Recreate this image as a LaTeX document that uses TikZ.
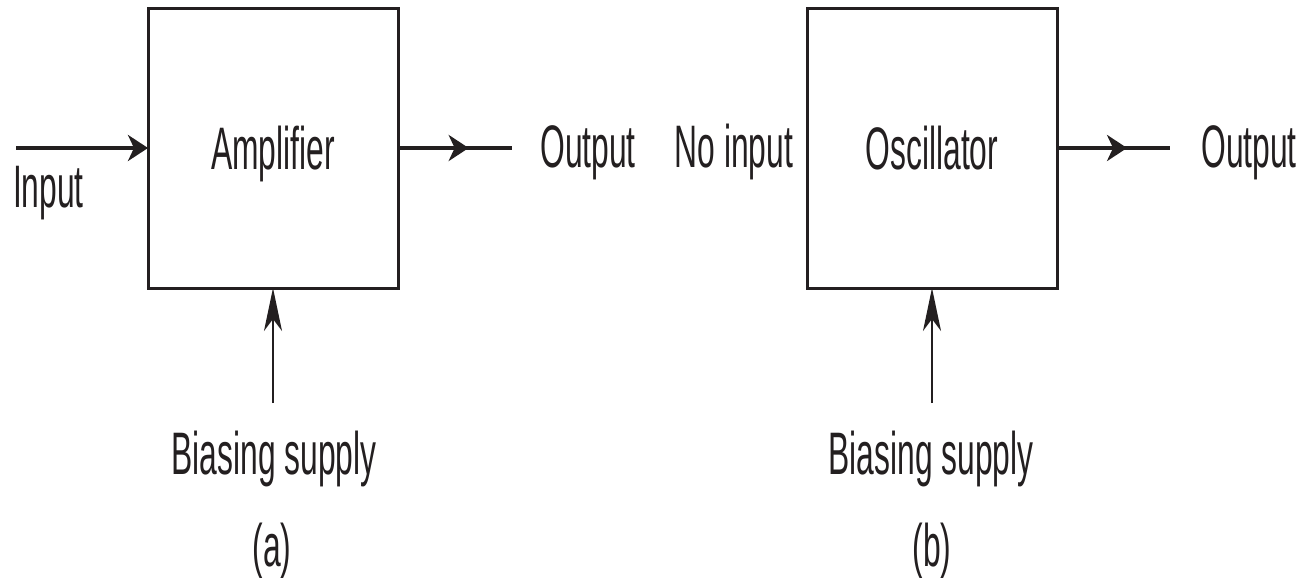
\documentclass[tikz,border=0pt]{standalone}
\usepackage{fontspec}
\setmainfont[FakeStretch=0.53]{Liberation Sans}
\usetikzlibrary{arrows.meta,decorations.markings}
\definecolor{ink}{RGB}{35,31,32}
\begin{document}
\begin{tikzpicture}[x=0.5pt,y=-0.5pt,
  every node/.style={inner sep=0pt, outer sep=0pt, text=ink, font=\fontsize{30}{36}\selectfont},
  block/.style={draw=ink, line width=1.5pt, minimum width=125pt, minimum height=140pt,
                text height=21.5pt, text depth=0pt},
  sig/.style={draw=ink, line width=2pt},
  bias/.style={draw=ink, line width=1pt, -{Stealth[length=21.5pt,width=9pt,inset=6pt]}},
  hhead/.style={-{Stealth[length=10pt,width=13pt,inset=3pt]}},
  midhead/.style={postaction={decorate}, decoration={markings,
      mark=at position #1 with {\arrow{Stealth[length=10pt,width=13pt,inset=3pt]}}}}
]
\useasboundingbox (0,0) rectangle (1301,578);

% (a) amplifier
\node[block] (amp) at (273,148) {Amplifier};
\coordinate (inS) at (16,148);
\coordinate (outA) at (512,148);
\coordinate (supA) at (273,403);
\draw[sig, hhead] (inS) -- (amp.west);
\draw[sig, midhead=0.62] (amp.east) -- (outA);
\draw[bias] (supA) -- (amp.south);
\node[anchor=base west] (lin) at (13,207) {Input};
\node[anchor=base] (loa) at (588,167) {Output};
\node[anchor=base] (lba) at (274,474) {Biasing supply};
\node[anchor=base] (ca) at (272,566) {(a)};

% (b) oscillator
\node[block] (osc) at (932,148) {Oscillator};
\coordinate (outB) at (1170,148);
\coordinate (supB) at (932,403);
\draw[sig, midhead=0.62] (osc.east) -- (outB);
\draw[bias] (supB) -- (osc.south);
\node[anchor=base] (lni) at (734,167) {No input};
\node[anchor=base] (lob) at (1249,167) {Output};
\node[anchor=base] (lbb) at (931,474) {Biasing supply};
\node[anchor=base] (cb) at (932,566) {(b)};
\end{tikzpicture}
\end{document}
